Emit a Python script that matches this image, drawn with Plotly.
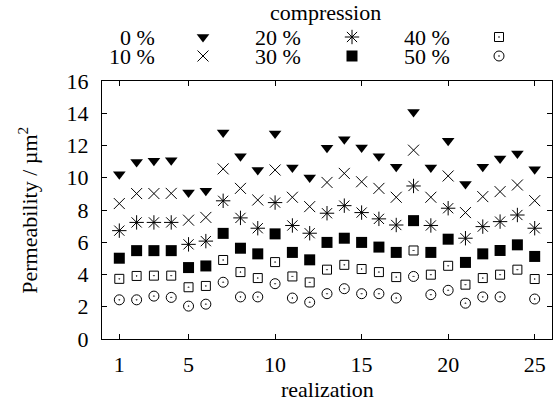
import plotly.graph_objects as go

realization = list(range(1, 26))

comp_0 = [10.21, 10.98, 11.05, 11.09, 9.08, 9.19, 12.80, 11.34, 10.48, 12.74, 10.64, 10.02, 11.86,
          12.39, 11.88, 11.34, 10.68, 14.08, 10.64, 12.29, 9.61, 10.68, 11.19, 11.50, 10.52]
comp_10 = [8.40, 9.02, 9.02, 9.03, 7.37, 7.54, 10.55, 9.34, 8.62, 10.48, 8.79, 8.21, 9.71,
           10.27, 9.75, 9.34, 8.79, 11.71, 8.79, 10.11, 7.84, 8.83, 9.14, 9.55, 8.58]
comp_20 = [6.72, 7.23, 7.23, 7.23, 5.87, 6.07, 8.57, 7.51, 6.87, 8.46, 7.04, 6.56, 7.80,
           8.27, 7.84, 7.45, 7.07, 9.49, 7.04, 8.11, 6.25, 6.97, 7.28, 7.69, 6.87]
comp_30 = [5.01, 5.48, 5.48, 5.48, 4.43, 4.53, 6.55, 5.63, 5.28, 6.52, 5.37, 4.91, 5.99,
           6.25, 5.99, 5.70, 5.37, 7.34, 5.37, 6.19, 4.75, 5.28, 5.49, 5.84, 5.12]
comp_40 = [3.73, 3.91, 3.93, 3.93, 3.21, 3.29, 4.90, 4.15, 3.78, 4.77, 3.88, 3.51, 4.30,
           4.60, 4.34, 4.15, 3.84, 5.49, 3.99, 4.54, 3.37, 3.78, 3.99, 4.30, 3.72]
comp_50 = [2.43, 2.43, 2.66, 2.58, 2.04, 2.16, 3.52, 2.61, 2.61, 3.43, 2.54, 2.28, 2.81,
           3.12, 2.81, 2.81, 2.54, 3.88, 2.75, 3.02, 2.22, 2.61, 2.61, None, 2.48]

labels = ["0 %", "10 %", "20 %", "30 %", "40 %", "50 %"]
series = [comp_0, comp_10, comp_20, comp_30, comp_40, comp_50]
x_ticks = [1, 5, 10, 15, 20, 25]

styles = [
    dict(symbol="triangle-down", size=11, color="black"),
    dict(symbol="x-thin-open", size=11, color="black", line=dict(width=1, color="black")),
    dict(symbol="asterisk-open", size=12, color="black", line=dict(width=1, color="black")),
    dict(symbol="square", size=11, color="black"),
    dict(symbol="square-open-dot", size=9, color="black", line=dict(width=1, color="black")),
    dict(symbol="circle-open-dot", size=10, color="black", line=dict(width=1, color="black")),
]

# legend layout (pixel coordinates on helper axis): column text-right x, marker x, row y
leg_text_x = [157, 157, 303, 303, 452, 452]
leg_mark_x = [203, 203, 352, 352, 499, 499]
leg_row_y = [37, 56, 37, 56, 37, 56]

FONT = "Liberation Serif"
FS = 22

fig = go.Figure()
for lab, vals, st in zip(labels, series, styles):
    fig.add_trace(go.Scatter(x=realization, y=vals, mode="markers", name=lab,
                             marker=st, showlegend=False, cliponaxis=False))

annotations = []
for i, (lab, st) in enumerate(zip(labels, styles)):
    fig.add_trace(go.Scatter(x=[leg_mark_x[i]], y=[leg_row_y[i]], mode="markers",
                             marker=st, xaxis="x2", yaxis="y2", showlegend=False,
                             hoverinfo="skip", cliponaxis=False))
    annotations.append(dict(x=leg_text_x[i], y=leg_row_y[i], xref="x2", yref="y2",
                            text=lab, showarrow=False, xanchor="right", yanchor="middle",
                            font=dict(family=FONT, size=FS, color="black")))

annotations.append(dict(x=325, y=12, xref="x2", yref="y2", text="compression",
                        showarrow=False, xanchor="center", yanchor="middle",
                        font=dict(family=FONT, size=FS, color="black")))
annotations.append(dict(x=0.5, y=-0.15, xref="paper", yref="paper", text="realization",
                        showarrow=False, xanchor="center", yanchor="middle",
                        font=dict(family=FONT, size=FS, color="black")))
annotations.append(dict(x=-0.165, y=0.3805, xref="paper", yref="paper",
                        text="Permeability / µm<sup>2</sup>", textangle=-90,
                        showarrow=False, xanchor="center", yanchor="middle",
                        font=dict(family=FONT, size=FS, color="black")))

ydom = 258 / 339
axis_common = dict(showline=True, linecolor="black", linewidth=1, mirror="ticks",
                   ticks="inside", ticklen=5, tickwidth=1, tickcolor="black",
                   showgrid=False, zeroline=False, automargin=False,
                   tickfont=dict(family=FONT, size=FS, color="black"))

fig.update_layout(
    template="none",
    width=553, height=410, autosize=False,
    margin=dict(l=102, r=1, t=0, b=71, pad=0),
    plot_bgcolor="white", paper_bgcolor="white",
    font=dict(family=FONT, size=FS, color="black"),
    xaxis=dict(range=[0, 26], tickvals=x_ticks, anchor="y", ticklabelstandoff=6, **axis_common),
    yaxis=dict(range=[0, 16], dtick=2, domain=[0, ydom], anchor="x", ticklabelstandoff=8, **axis_common),
    xaxis2=dict(range=[102, 552], domain=[0, 1], anchor="y2", visible=False, automargin=False),
    yaxis2=dict(range=[81, 0], domain=[ydom, 1], anchor="x2", visible=False, automargin=False),
    annotations=annotations,
    showlegend=False,
)

fig.write_html("out.html")
